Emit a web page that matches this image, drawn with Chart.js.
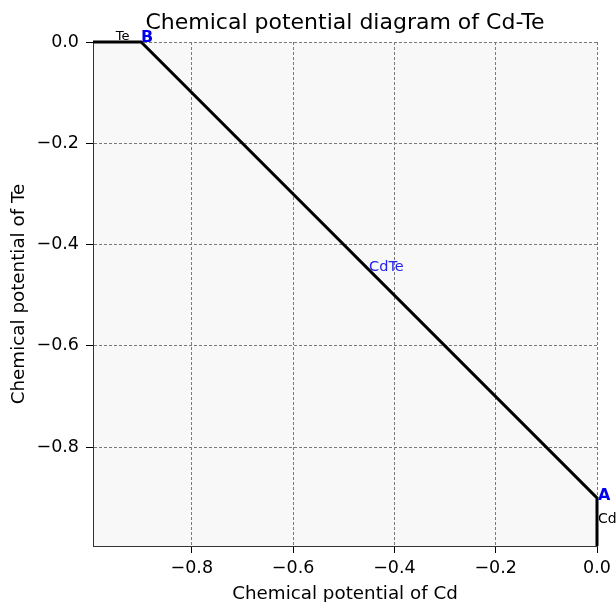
<!DOCTYPE html>
<html>
<head>
<meta charset="utf-8">
<script src="https://cdn.jsdelivr.net/npm/chart.js@4.4.1/dist/chart.umd.min.js"></script>
<style>
  html, body { margin: 0; padding: 0; background: #fff; }
  #wrap { width: 616px; height: 602px; }
</style>
</head>
<body>
<div id="wrap"><canvas id="chart"></canvas></div>
<script>
// stability boundary of CdTe (mu_Cd, mu_Te)
const boundaryX = [-1.0, -0.9, 0.0, 0.0];
const boundaryY = [0.0, 0.0, -0.9, -1.0];
const tickValues = [-0.8, -0.6, -0.4, -0.2, 0.0];
const axisMin = -0.995;
const axisMax = 0.0;

// text annotations (data coordinates)
const labelTexts = ["Te", "B", "CdTe", "A", "Cd"];
const labelX = [-0.95, -0.9, -0.45, 0.0, 0.0];
const labelY = [0.0, 0.0, -0.45, -0.9, -0.9];

const labelStyles = [
  { color: "#000", font: "13px 'DejaVu Sans'", dx: 0, dy: -2 },
  { color: "#0000ee", font: "bold 16px 'DejaVu Sans'", dx: 0, dy: 0 },
  { color: "#2222ee", font: "14.5px 'DejaVu Sans'", dx: 0, dy: 1 },
  { color: "#0000ee", font: "bold 16px 'DejaVu Sans'", dx: 1, dy: 2 },
  { color: "#000", font: "14px 'DejaVu Sans'", dx: 1, dy: 25 },
];

const fmt = (v) => {
  const s = Math.abs(v) < 1e-9 ? "0.0" : v.toFixed(1);
  return s.replace("-", "\u2212");
};

const plotBackground = {
  id: "plotBackground",
  beforeDraw(chart) {
    const { ctx, chartArea: a } = chart;
    ctx.save();
    ctx.fillStyle = "#f8f8f8";
    ctx.fillRect(a.left, a.top, a.right - a.left, a.bottom - a.top);
    ctx.restore();
  },
};

const textLabels = {
  id: "textLabels",
  afterDatasetsDraw(chart) {
    const { ctx, scales } = chart;
    ctx.save();
    ctx.textAlign = "left";
    ctx.textBaseline = "alphabetic";
    labelTexts.forEach((t, i) => {
      const st = labelStyles[i];
      ctx.fillStyle = st.color;
      ctx.font = st.font;
      const px = scales.x.getPixelForValue(labelX[i]) + st.dx;
      const py = scales.y.getPixelForValue(labelY[i]) + st.dy;
      ctx.fillText(t, px, py);
    });
    ctx.restore();
  },
};

const points = boundaryX.map((x, i) => ({ x: x, y: boundaryY[i] }));

const axisCommon = {
  type: "linear",
  min: axisMin,
  max: axisMax,
  afterBuildTicks: (scale) => {
    scale.ticks = tickValues.map((v) => ({ value: v }));
  },
  grid: {
    color: "#7a7a7a",
    lineWidth: 1,
    drawTicks: true,
    tickLength: 7,
    tickColor: "#000",
    tickWidth: 1,
  },
  border: { display: true, color: "#333", width: 1, dash: [3, 2] },
};

new Chart(document.getElementById("chart"), {
  type: "scatter",
  data: {
    datasets: [
      {
        data: points,
        showLine: true,
        borderColor: "#000",
        borderWidth: 3,
        pointRadius: 0,
        fill: false,
        clip: { left: 0, top: 2, right: 2, bottom: 0 },
      },
    ],
  },
  options: {
    responsive: true,
    maintainAspectRatio: false,
    animation: false,
    layout: { padding: { left: 0, right: 19, top: 0, bottom: 0 } },
    plugins: {
      legend: { display: false },
      tooltip: { enabled: false },
      title: {
        display: true,
        text: "Chemical potential diagram of Cd-Te",
        color: "#000",
        font: { family: "DejaVu Sans", size: 22, weight: "normal", lineHeight: 1.2 },
        padding: { top: 10, bottom: 5.6 },
        fullSize: false,
      },
    },
    scales: {
      x: {
        ...axisCommon,
        position: "bottom",
        afterFit: (scale) => { scale.height = 56; },
        ticks: {
          color: "#000",
          padding: 5,
          font: { family: "DejaVu Sans", size: 17.5 },
          callback: (v) => fmt(v),
          maxRotation: 0,
        },
        title: {
          display: true,
          text: "Chemical potential of Cd",
          color: "#000",
          font: { family: "DejaVu Sans", size: 18.3, lineHeight: 0.8 },
          padding: { top: 0, bottom: 0 },
        },
      },
      y: {
        ...axisCommon,
        position: "left",
        afterFit: (scale) => { scale.width = 93; },
        ticks: {
          color: "#000",
          padding: 7,
          font: { family: "DejaVu Sans", size: 17.5 },
          callback: (v) => fmt(v),
        },
        title: {
          display: true,
          text: "Chemical potential of Te",
          color: "#000",
          font: { family: "DejaVu Sans", size: 18.3, lineHeight: 1 },
          padding: { top: 10, bottom: 0 },
        },
      },
    },
  },
  plugins: [plotBackground, textLabels],
});
</script>
</body>
</html>
